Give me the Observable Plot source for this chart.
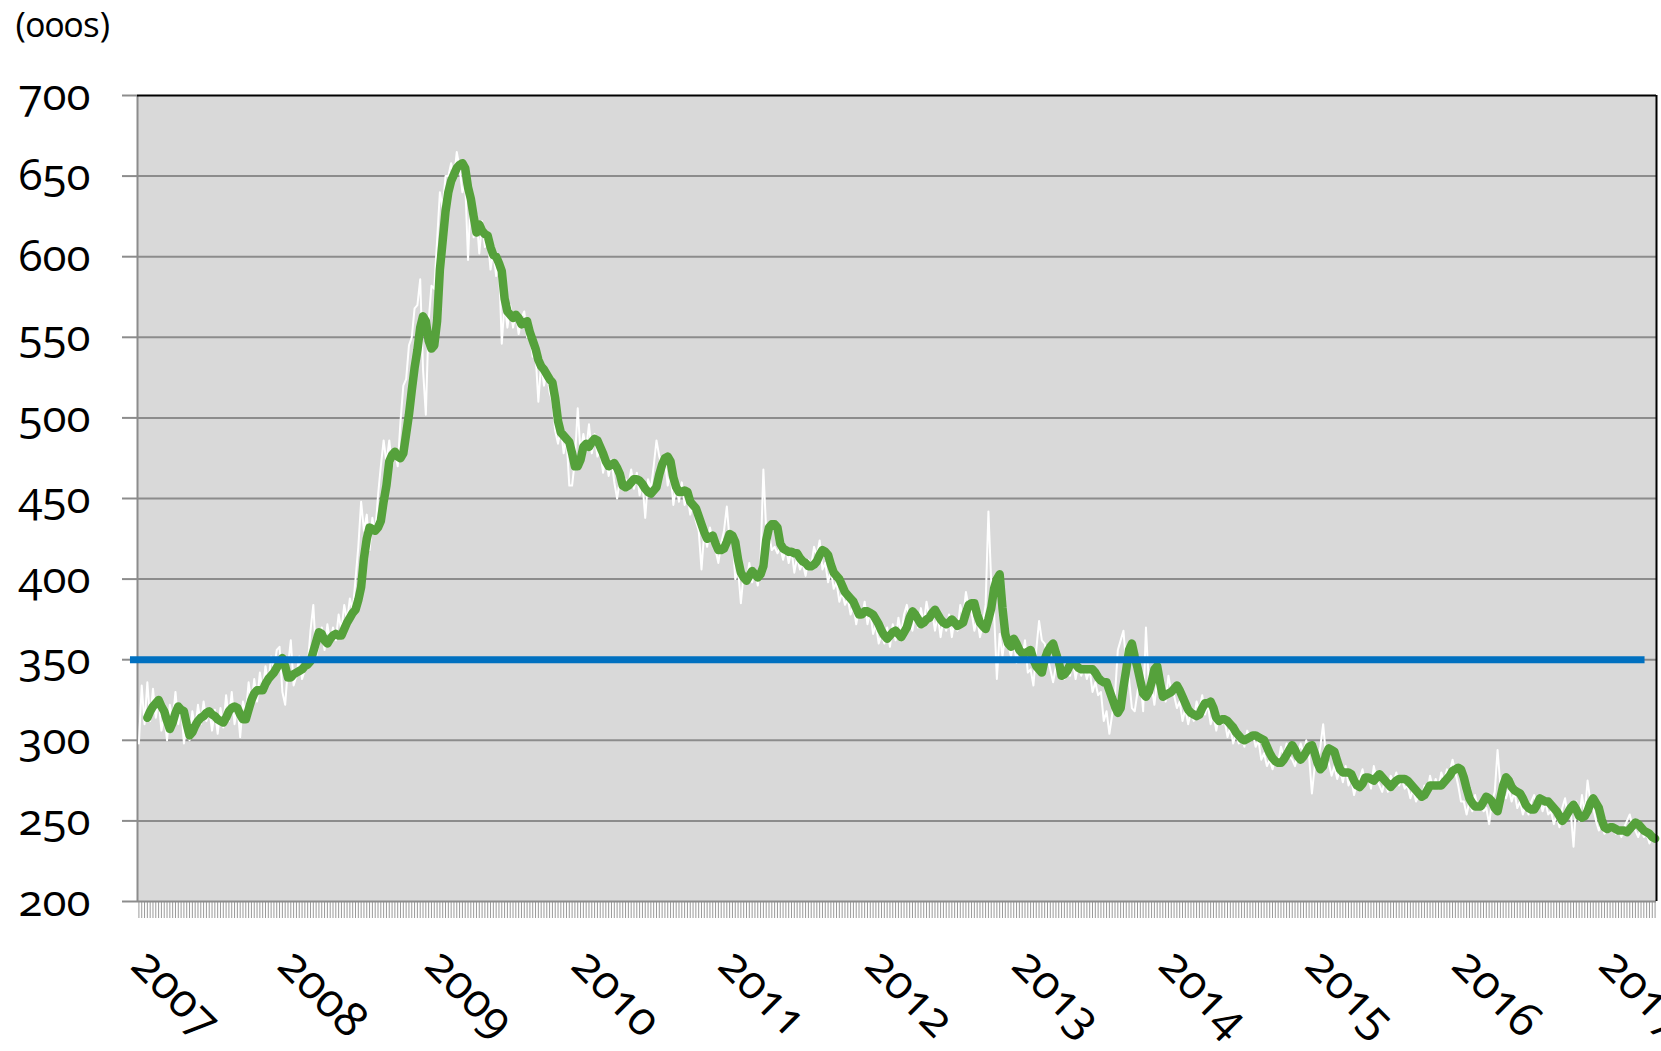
<!DOCTYPE html>
<html><head><meta charset="utf-8">
<script src="https://cdn.jsdelivr.net/npm/d3@7"></script>
<script src="https://cdn.jsdelivr.net/npm/@observablehq/plot@0.6"></script>
<style>
body{margin:0;background:#fff;}
#chart svg text{font-variant-numeric: oldstyle-nums !important; font-feature-settings:"onum" 1 !important;}
</style></head><body><div id="chart"></div>
<script>
const unitLabel = "(000s)";
const firstWeek = "2007-01-06";
const yearLabels = ["2007","2008","2009","2010","2011","2012","2013","2014","2015","2016","2017"];
const yTicks = [200,250,300,350,400,450,500,550,600,650,700];
const gridValues = [250,300,350,400,450,500,550,600,650];

// weekly initial claims (thin white line), thousands
const weeklyClaims = [
298,334,310,336,312,332,314,326,306,316,
300,322,312,330,310,322,298,310,300,318,
306,322,310,324,312,320,306,319,304,320,
308,328,312,330,310,322,302,324,316,336,
322,338,324,342,330,346,334,352,344,356,
358,330,322,346,362,334,340,352,338,344,
346,368,384,352,360,370,356,372,360,370,
362,378,368,384,374,388,380,400,420,448,
430,440,418,438,428,452,470,486,472,486,
470,480,470,498,520,524,545,550,568,570,
586,530,502,560,582,580,610,640,630,650,
650,658,648,665,655,640,646,598,640,612,
626,602,622,606,612,592,604,588,596,546,
572,556,570,556,566,552,562,566,550,552,
538,540,510,534,520,530,516,510,492,484,
494,478,488,458,458,474,506,478,490,480,
496,478,490,476,480,466,476,464,474,460,
450,462,456,462,458,468,456,466,452,460,
438,462,456,470,486,476,470,474,458,466,
446,458,448,460,446,452,440,448,436,430,
406,430,420,432,424,418,410,422,430,445,
424,428,400,406,385,404,398,410,398,406,
396,412,468,430,428,418,420,416,420,412,
420,410,418,404,414,406,410,402,412,408,
420,414,424,406,410,398,406,394,398,386,
392,384,388,378,384,372,382,376,386,372,
380,366,372,360,366,360,370,358,372,362,
376,366,378,384,374,368,380,370,382,372,
386,376,380,368,378,364,376,368,378,364,
376,368,384,376,392,382,380,368,376,364,
372,384,442,398,380,338,366,352,366,360,
352,362,348,360,350,362,342,344,334,356,
374,362,360,352,344,336,346,342,352,338,
350,340,350,338,348,340,346,338,344,330,
336,328,330,312,318,304,316,328,356,362,
368,346,338,320,318,330,340,318,370,336,
334,322,338,326,336,324,340,330,328,320,
324,312,320,310,318,312,324,318,328,316,
322,310,316,306,316,310,312,302,308,298,
304,298,302,296,306,300,304,296,300,288,
292,284,288,282,290,286,296,290,298,290,
288,284,292,298,292,300,290,267,284,286,
296,310,290,286,278,284,276,282,274,284,
272,276,266,274,276,282,272,278,270,284,
276,272,268,276,268,278,274,280,272,276,
270,272,264,270,262,266,264,272,268,278,
270,276,270,280,274,282,280,288,280,272,
262,262,254,262,256,266,258,262,256,258,
248,262,268,294,272,266,264,270,262,268,
258,262,254,260,254,262,266,260,264,256,
262,254,256,248,254,246,258,264,252,256,
234,262,250,266,254,275,262,258,250,244,
248,242,246,244,248,242,246,240,246,250,
254,246,244,240,246,240,242,236,240,238
];

// 4-week average (thick green line), thousands
const avg4Weeks = [
null,null,null,314,318,321,323,325,321,318,
312,307,311,317,321,319,318,310,303,305,
309,312,314,315,317,318,316,315,313,312,
311,314,318,320,321,320,316,313,313,319,
325,329,331,331,331,335,338,340,342,345,
348,351,346,339,339,341,342,343,344,346,
347,349,355,361,367,366,362,360,363,365,
366,365,365,369,373,376,379,381,387,395,
413,425,432,431,430,432,436,448,458,473,
477,479,476,475,478,490,502,517,531,542,
556,563,560,548,543,545,560,592,610,628,
640,647,651,655,657,658,655,643,636,625,
615,620,616,614,613,606,601,600,596,591,
574,566,564,562,564,562,558,559,560,553,
548,543,536,532,530,527,524,522,512,498,
491,489,487,485,478,470,470,474,482,484,
482,485,487,486,482,478,473,470,471,472,
469,465,458,457,458,460,462,462,461,459,
456,454,453,455,457,465,471,475,476,473,
463,457,454,454,455,454,448,446,444,439,
434,429,425,426,427,422,418,418,419,423,
428,427,423,412,404,401,399,402,405,403,
401,403,408,424,432,434,434,432,422,419,
418,417,417,416,416,413,411,410,408,408,
409,411,415,418,417,415,409,404,402,400,
396,392,390,388,386,382,378,378,380,380,
379,378,375,372,368,365,363,365,367,368,
366,364,367,370,376,380,378,375,372,373,
375,376,379,381,378,375,373,372,373,375,
373,371,372,373,379,384,385,385,378,373,
371,369,375,382,394,400,403,382,366,360,
358,363,360,356,354,354,355,356,350,346,
344,342,350,355,358,360,354,349,340,341,
343,347,349,347,345,344,344,344,344,344,
342,339,337,336,336,331,326,321,317,320,
333,344,356,360,352,345,337,329,327,330,
336,344,346,336,327,328,329,330,332,334,
331,327,323,319,317,316,315,316,320,323,
323,324,320,314,312,313,313,312,310,308,
305,303,301,300,301,302,303,303,302,301,
300,296,292,289,287,286,286,288,291,294,
297,294,290,288,290,293,296,297,292,286,
282,284,291,295,294,293,287,282,280,280,
280,279,275,272,271,273,277,277,276,275,
277,279,277,275,273,271,273,275,276,276,
276,275,273,271,269,267,265,266,269,272,
272,272,272,272,274,276,278,281,282,283,
282,277,270,264,261,259,259,259,262,265,
264,262,258,256,264,272,277,275,271,269,
268,267,264,260,258,257,257,260,264,263,
262,262,260,258,256,253,250,252,255,258,
260,257,253,252,253,256,261,264,261,258,
251,246,245,246,246,245,244,244,244,243,
245,247,249,248,246,244,243,242,240,239
];

const benchmark = [{value: 350, from: "2006-12-16", to: "2017-04-11"}];

const start = new Date(firstWeek + "T00:00:00Z");
const weekDate = i => new Date(start.getTime() + i * 7 * 864e5);
const rows = weeklyClaims.map((v, i) => ({date: weekDate(i), claims: v, avg: avg4Weeks[i]}));
const xDomain = [weekDate(-0.5), weekDate(weeklyClaims.length - 0.5)];

const chart = Plot.plot({
  width: 1661, height: 1051,
  marginTop: 95, marginBottom: 150, marginLeft: 137, marginRight: 5,
  style: {fontFamily: "'Open Sans', 'Noto Sans', sans-serif", fontSize: "44px", color: "#000", background: "#fff", overflow: "visible"},
  x: {type: "utc", domain: xDomain},
  y: {domain: [200, 700]},
  marks: [
    Plot.frame({fill: "#d9d9d9", stroke: null}),
    Plot.ruleY(gridValues, {stroke: "#8c8c8c", strokeWidth: 2}),
    Plot.axisY({ticks: yTicks, tickSize: 15, tickPadding: 32, stroke: "#8c8c8c", strokeWidth: 2, fontSize: 44, label: null, tickFormat: d => String(d)}),
    Plot.axisX({ticks: rows.map(d => d.date), tickSize: 17, tickFormat: () => "", stroke: "#9a9a9a", strokeWidth: 1, label: null}),
    Plot.ruleY([200], {stroke: "#8c8c8c", strokeWidth: 2}),
    Plot.ruleX([xDomain[0]], {stroke: "#8c8c8c", strokeWidth: 2}),
    Plot.lineY(rows, {x: "date", y: "claims", stroke: "#ffffff", strokeWidth: 2}),
    Plot.lineY(rows, {x: "date", y: "avg", stroke: "#55a13b", strokeWidth: 8.5, strokeLinejoin: "round", strokeLinecap: "round"}),
    Plot.ruleY(benchmark, {y: "value", x1: d => new Date(d.from), x2: d => new Date(d.to), stroke: "#0070c0", strokeWidth: 7}),
    Plot.ruleY([700], {stroke: "#000", strokeWidth: 2}),
    Plot.ruleX([xDomain[1]], {stroke: "#000", strokeWidth: 2}),
    Plot.text(yearLabels, {x: d => new Date(Date.UTC(+d, 0, 1)), frameAnchor: "bottom", text: d => d, rotate: 45, textAnchor: "start", dx: -8, dy: 66, fontSize: 47, fill: "#000"}),
    Plot.text([unitLabel], {frameAnchor: "top-left", text: d => d, dx: -122, dy: -83, textAnchor: "start", fontSize: 35, fill: "#000"})
  ]
});
document.getElementById("chart").append(chart);
</script>
</body></html>
